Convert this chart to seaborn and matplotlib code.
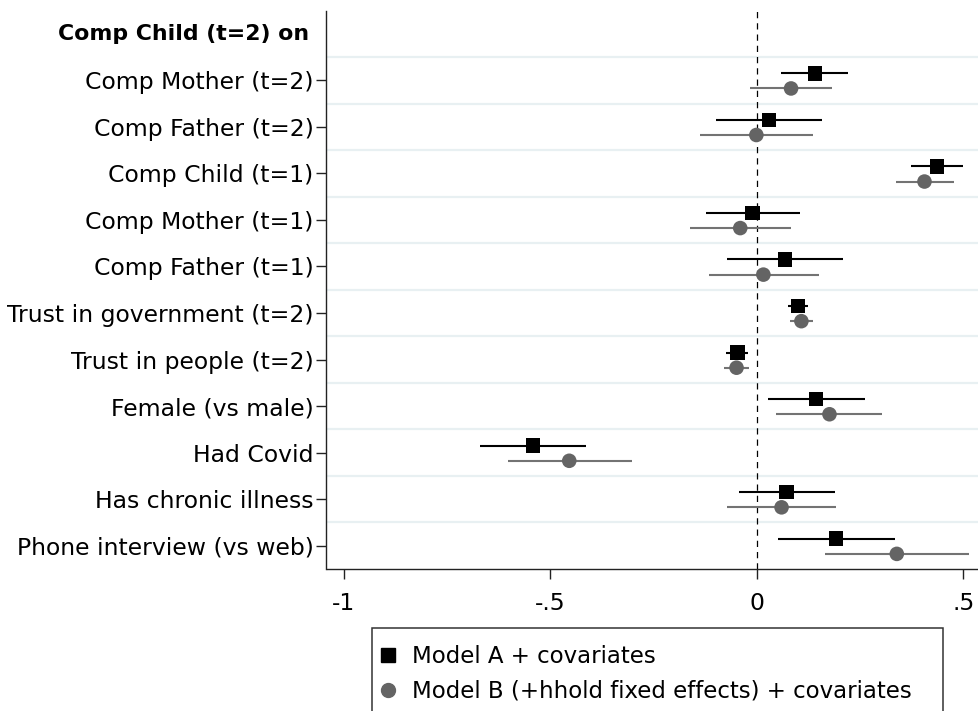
import matplotlib
matplotlib.use("Agg")
import matplotlib.pyplot as plt
from matplotlib.lines import Line2D
from matplotlib.patches import Rectangle
import seaborn as sns
import pandas as pd
import numpy as np

heading = "Comp Child (t=2) on"
labels = ["Comp Mother (t=2)", "Comp Father (t=2)", "Comp Child (t=1)",
          "Comp Mother (t=1)", "Comp Father (t=1)", "Trust in government (t=2)",
          "Trust in people (t=2)", "Female (vs male)", "Had Covid",
          "Has chronic illness", "Phone interview (vs web)"]
a_est = [0.141, 0.030, 0.436, -0.010, 0.068, 0.100, -0.047, 0.143, -0.542, 0.072, 0.192]
a_lo = [0.058, -0.098, 0.374, -0.123, -0.072, 0.076, -0.074, 0.026, -0.671, -0.042, 0.051]
a_hi = [0.221, 0.158, 0.499, 0.105, 0.209, 0.125, -0.022, 0.263, -0.414, 0.189, 0.334]
b_est = [0.083, -0.001, 0.406, -0.040, 0.016, 0.108, -0.049, 0.176, -0.454, 0.060, 0.339]
b_lo = [-0.016, -0.138, 0.336, -0.161, -0.116, 0.080, -0.080, 0.047, -0.603, -0.072, 0.164]
b_hi = [0.182, 0.135, 0.477, 0.083, 0.151, 0.136, -0.018, 0.304, -0.303, 0.192, 0.515]
models = ["Model A + covariates", "Model B (+hhold fixed effects) + covariates"]
xticks = [-1, -0.5, 0, 0.5]
xticklabels = ["-1", "-.5", "0", ".5"]

sns.set_style("white")
plt.rcParams['font.family'] = ['DejaVu Sans']
plt.rcParams['font.size'] = 16.9
for k in ["text.color", "axes.labelcolor", "xtick.color", "ytick.color"]:
    plt.rcParams[k] = "black"

col_a = "#000000"
col_b = "#646464"
col_b_line = "#737373"
offsets = {models[0]: -0.15, models[1]: 0.175}

rows = []
for i, lab in enumerate(labels):
    rows.append(dict(label=lab, row=i + 1, model=models[0], est=a_est[i], lo=a_lo[i], hi=a_hi[i]))
    rows.append(dict(label=lab, row=i + 1, model=models[1], est=b_est[i], lo=b_lo[i], hi=b_hi[i]))
df = pd.DataFrame(rows)
df["y"] = df["row"] + df["model"].map(offsets)

fig = plt.figure(figsize=(9.79, 7.11), dpi=100)
ax = fig.add_axes([326.5 / 979, 1 - 569 / 711, 1 - 326.5 / 979, (569 - 10.5) / 711])

# grid lines between rows
for g in np.arange(0.5, len(labels) + 0.5, 1.0):
    ax.axhline(g, color="#e8f0f2", lw=1.6, zorder=0)
ax.axvline(0, color="black", lw=0.9, ls=(0, (5, 4)), zorder=1)

for m, c in zip(models, [col_a, col_b_line]):
    sub = df[df["model"] == m]
    ax.hlines(sub["y"], sub["lo"], sub["hi"], color=c, lw=1.5, zorder=2)

sns.scatterplot(data=df, x="est", y="y", hue="model", style="model",
                palette={models[0]: col_a, models[1]: col_b},
                markers={models[0]: "s", models[1]: "o"},
                s=110, linewidth=0, ax=ax, legend=False, zorder=3)

ax.set_xlim(-1.0417, 0.538)
ax.set_ylim(len(labels) + 0.5, -0.5)
ax.set_xticks(xticks)
ax.set_xticklabels(xticklabels)
ax.set_yticks(range(1, len(labels) + 1))
ax.set_yticklabels(labels)
ax.set_xlabel("")
ax.set_ylabel("")
ax.text(-0.027, 0, heading,
        transform=matplotlib.transforms.blended_transform_factory(ax.transAxes, ax.transData),
        ha="right", va="center", fontweight="bold", fontsize=15.8, color="black")

for side in ["top", "right"]:
    ax.spines[side].set_visible(False)
for side in ["left", "bottom"]:
    ax.spines[side].set_color("#222222")
    ax.spines[side].set_linewidth(1.0)
ax.tick_params(axis="both", which="major", bottom=True, left=True,
               length=7.2, width=1.0, color="#222222", labelcolor="black")
ax.tick_params(axis="y", pad=2)
ax.tick_params(axis="x", pad=9)

# legend box (bottom runs off the figure as in the original)
ytop = 1 - 628 / 711
fig.patches.append(Rectangle((372 / 979, -0.05), (943 - 372) / 979, ytop + 0.05,
                             transform=fig.transFigure, fill=False,
                             edgecolor="#333333", lw=1.1))

handles = [Line2D([], [], marker="s", color=col_a, ls="none", markersize=10),
           Line2D([], [], marker="o", color=col_b, ls="none", markersize=10)]
leg = fig.legend(handles, models, loc="upper left", bbox_to_anchor=(358 / 979, ytop),
                 frameon=False, fontsize=16.5,
                 handletextpad=0.51, handlelength=1.1, borderpad=0.75, labelspacing=0.5,
                 borderaxespad=0)
for t in leg.get_texts():
    t.set_color("black")

fig.savefig("out.png", dpi=100)
